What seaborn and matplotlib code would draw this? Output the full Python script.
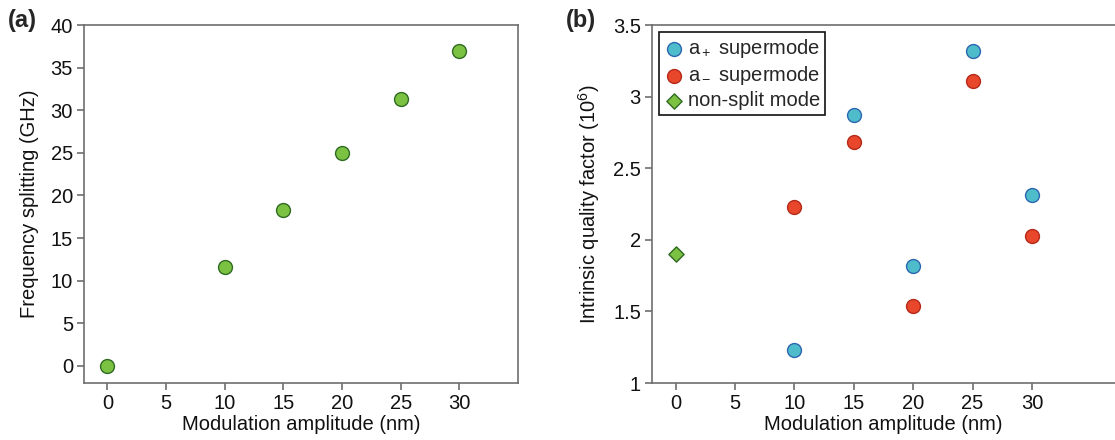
import numpy as np
import pandas as pd
import seaborn as sns
import matplotlib.pyplot as plt

# panel (a) data
amp_a = [0, 10, 15, 20, 25, 30]
splitting = [0.0, 11.6, 18.3, 25.0, 31.3, 36.9]

# panel (b) data
amp_b = [10, 15, 20, 25, 30]
q_plus = [1.23, 2.87, 1.82, 3.32, 2.31]
q_minus = [2.23, 2.68, 1.54, 3.11, 2.03]
amp_ns = [0]
q_ns = [1.90]

xticks = [0, 5, 10, 15, 20, 25, 30]

sns.set_style('white')
plt.rcParams['font.family'] = ['Liberation Sans', 'DejaVu Sans']
plt.rcParams['mathtext.fontset'] = 'custom'
plt.rcParams['mathtext.rm'] = 'Liberation Sans'
plt.rcParams['mathtext.it'] = 'Liberation Sans'
plt.rcParams['mathtext.default'] = 'regular'

fig = plt.figure(figsize=(11.15, 4.4), dpi=100)
ax1 = fig.add_axes([84 / 1115, 57 / 440, 434 / 1115, 358 / 440])
ax2 = fig.add_axes([652 / 1115, 57 / 440, 463 / 1115, 358 / 440])

spine_col = '#6e6e6e'
fs_tick = 14.5
fs_lab = 14.5

def style_axis(ax):
    for s in ax.spines.values():
        s.set_color(spine_col)
        s.set_linewidth(1.2)
    ax.tick_params(axis='both', direction='out', length=5, width=1.2, color=spine_col,
                   labelsize=fs_tick, labelcolor='#111111', pad=3, left=True, bottom=True)
    ax.set_xticks(xticks)

# (a) Frequency splitting
df_a = pd.DataFrame({'amp': amp_a, 'split': splitting})
sns.scatterplot(data=df_a, x='amp', y='split', ax=ax1, color='#7cc242',
                edgecolor='#2f6b22', linewidth=1.0, s=100, zorder=3)
ax1.set_xlim(-2, 35)
ax1.set_ylim(-2, 40)
ax1.set_yticks(np.arange(0, 41, 5))
ax1.set_xlabel('Modulation amplitude (nm)', fontsize=fs_lab, labelpad=1, color='#111111')
ax1.set_ylabel('Frequency splitting (GHz)', fontsize=fs_lab, labelpad=8, color='#111111')
style_axis(ax1)

# (b) Intrinsic quality factor
sns.scatterplot(x=amp_b, y=q_plus, ax=ax2, color='#4fbccb', edgecolor='#2b67b0',
                linewidth=1.0, s=100, zorder=3, label='a$_+$ supermode')
sns.scatterplot(x=amp_b, y=q_minus, ax=ax2, color='#e8472b', edgecolor='#b52a1a',
                linewidth=1.0, s=100, zorder=3, label='a$_-$ supermode')
sns.scatterplot(x=amp_ns, y=q_ns, ax=ax2, color='#7cc242', edgecolor='#2f6b22',
                linewidth=1.0, s=60, marker='D', zorder=3, label='non-split mode')
ax2.set_xlim(-2, 37)
ax2.set_ylim(1, 3.5)
ax2.set_yticks([1, 1.5, 2, 2.5, 3, 3.5])
ax2.set_yticklabels(['1', '1.5', '2', '2.5', '3', '3.5'])
ax2.set_xlabel('Modulation amplitude (nm)', fontsize=fs_lab, labelpad=1, color='#111111')
ax2.set_ylabel('Intrinsic quality factor (10$^6$)', fontsize=fs_lab, labelpad=8, color='#111111')
style_axis(ax2)
ax2.spines['right'].set_visible(False)

leg = ax2.legend(loc='upper left', bbox_to_anchor=(0.015, 0.98), fontsize=14.5,
                 frameon=True, fancybox=False, edgecolor='#111111', framealpha=1.0,
                 handletextpad=0.2, borderpad=0.25, labelspacing=0.2, borderaxespad=0.0,
                 handlelength=1.0)
leg.get_frame().set_linewidth(1.2)

fig.text(8 / 1115, 1 - 20 / 440, '(a)', fontsize=17, fontweight='bold', va='center')
fig.text(566 / 1115, 1 - 20 / 440, '(b)', fontsize=17, fontweight='bold', va='center')

fig.savefig('out.png', dpi=100)
